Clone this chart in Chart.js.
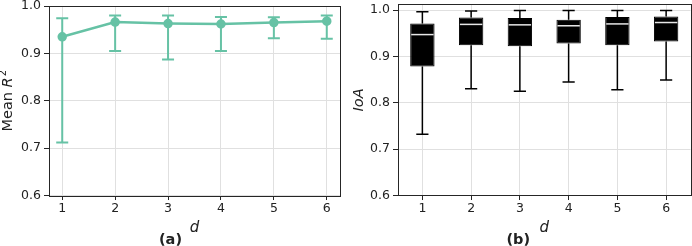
<!DOCTYPE html>
<html>
<head>
<meta charset="utf-8">
<script src="https://cdn.jsdelivr.net/npm/chart.js@4.4.0/dist/chart.umd.min.js"></script>
<style>
  html, body { margin: 0; padding: 0; background: #fff; }
  .panel { position: absolute; top: 0; width: 346px; height: 246px; }
  #panel-a { left: 0; }
  #panel-b { left: 346px; }
</style>
</head>
<body>
<div class="panel" id="panel-a"><canvas id="chartA" width="346" height="246"></canvas></div>
<div class="panel" id="panel-b"><canvas id="chartB" width="346" height="246"></canvas></div>
<script>
// Shared axis data
const dValues = [1, 2, 3, 4, 5, 6];
const categories = ['1', '2', '3', '4', '5', '6'];
const yTicks = [0.6, 0.7, 0.8, 0.9, 1.0];

// (a) mean R^2 with its spread
const meanR2 = [0.935, 0.966, 0.963, 0.962, 0.965, 0.968];
const r2High = [0.974, 0.980, 0.980, 0.977, 0.976, 0.980];
const r2Low  = [0.712, 0.905, 0.887, 0.905, 0.932, 0.931];

// (b) IoA box statistics
const ioaMin    = [0.732, 0.830, 0.825, 0.845, 0.828, 0.849];
const ioaQ1     = [0.878, 0.924, 0.922, 0.928, 0.924, 0.932];
const ioaMedian = [0.947, 0.969, 0.968, 0.966, 0.970, 0.973];
const ioaQ3     = [0.971, 0.984, 0.983, 0.979, 0.985, 0.986];
const ioaMax    = [0.996, 0.998, 0.999, 0.999, 0.999, 0.999];

// Styles
const teal = '#66c2a5';
const gridColor = '#e0e0e0';
const axisColor = '#262626';
const textColor = '#222';
const FONT = 'DejaVu Sans';
const tickFont = { family: FONT, size: 12.5 };

// Draws the full box around the plot area
const framePlugin = {
    id: 'frame',
    afterDraw(chart) {
        const { ctx, chartArea: a } = chart;
        ctx.save();
        ctx.strokeStyle = axisColor;
        ctx.lineWidth = 1;
        ctx.strokeRect(Math.round(a.left) + 0.5, Math.round(a.top) + 0.5,
            Math.round(a.right - a.left), Math.round(a.bottom - a.top));
        ctx.restore();
    }
};

// Vertical error bars with caps for panel (a)
const errorBars = {
    id: 'errorBars',
    beforeDatasetsDraw(chart) {
        const { ctx, scales: { x, y } } = chart;
        ctx.save();
        ctx.strokeStyle = teal;
        ctx.lineWidth = 2;
        dValues.forEach((d, i) => {
            const px = x.getPixelForValue(d);
            const top = y.getPixelForValue(r2High[i]);
            const bot = y.getPixelForValue(r2Low[i]);
            ctx.beginPath();
            ctx.moveTo(px, top); ctx.lineTo(px, bot);
            ctx.moveTo(px - 6, top); ctx.lineTo(px + 6, top);
            ctx.moveTo(px - 6, bot); ctx.lineTo(px + 6, bot);
            ctx.stroke();
        });
        ctx.restore();
    }
};

// "Mean R²" y title with italic R and superscript
const r2Title = {
    id: 'r2Title',
    afterDraw(chart) {
        const { ctx, chartArea: a } = chart;
        ctx.save();
        ctx.translate(8.5, (a.top + a.bottom) / 2);
        ctx.rotate(-Math.PI / 2);
        ctx.fillStyle = textColor;
        ctx.textBaseline = 'middle';
        const f1 = '14.5px "DejaVu Sans"';
        const f2 = 'italic 14.5px "DejaVu Sans"';
        const f3 = '10px "DejaVu Sans"';
        ctx.font = f1; const w1 = ctx.measureText('Mean ').width;
        ctx.font = f2; const w2 = ctx.measureText('R').width;
        ctx.font = f3; const w3 = ctx.measureText('2').width;
        let xx = -(w1 + w2 + w3 + 1) / 2;
        ctx.font = f1; ctx.fillText('Mean ', xx, 0); xx += w1;
        ctx.font = f2; ctx.fillText('R', xx, 0); xx += w2;
        ctx.font = f3; ctx.fillText('2', xx + 1, -5.5);
        ctx.restore();
    }
};

// Whiskers, caps and medians for panel (b)
const whiskers = {
    id: 'whiskers',
    afterDatasetsDraw(chart) {
        const { ctx, scales: { y } } = chart;
        const bars = chart.getDatasetMeta(0).data;
        ctx.save();
        bars.forEach((bar, i) => {
            const cx = bar.x;
            const half = bar.width / 2;
            const cap = bar.width / 4;
            const pMax = y.getPixelForValue(ioaMax[i]);
            const pMin = y.getPixelForValue(ioaMin[i]);
            const pQ1 = y.getPixelForValue(ioaQ1[i]);
            const pQ3 = y.getPixelForValue(ioaQ3[i]);
            const pMed = y.getPixelForValue(ioaMedian[i]);
            ctx.strokeStyle = '#000';
            ctx.lineWidth = 1.5;
            ctx.beginPath();
            ctx.moveTo(cx, pQ3); ctx.lineTo(cx, pMax);
            ctx.moveTo(cx - cap, pMax); ctx.lineTo(cx + cap, pMax);
            ctx.moveTo(cx, pQ1); ctx.lineTo(cx, pMin);
            ctx.moveTo(cx - cap, pMin); ctx.lineTo(cx + cap, pMin);
            ctx.stroke();
            ctx.strokeStyle = '#e6e6e6';
            ctx.beginPath();
            ctx.moveTo(cx - half + 1, pMed); ctx.lineTo(cx + half - 1, pMed);
            ctx.stroke();
        });
        ctx.restore();
    }
};

function yAxis(max, width) {
    return {
        min: 0.6,
        max: max,
        afterBuildTicks: s => { s.ticks = yTicks.map(v => ({ value: v })); },
        afterFit: s => { s.width = width; s.paddingTop = 0; s.paddingBottom = 0; },
        grid: { color: gridColor, tickLength: 5, tickColor: axisColor },
        border: { display: false },
        ticks: { font: tickFont, color: textColor, padding: 3, callback: v => v.toFixed(1) }
    };
}

function xAxisBase() {
    return {
        afterFit: s => { s.height = 39.6; s.paddingLeft = 0; s.paddingRight = 0; },
        grid: { color: gridColor, tickLength: 4.5, tickColor: axisColor, offset: false },
        border: { display: false },
        ticks: { font: tickFont, color: textColor, padding: 1.5, maxRotation: 0 },
        title: {
            display: true, text: 'd', color: textColor, padding: 0,
            font: { family: FONT, size: 15, style: 'italic', lineHeight: 1 }
        }
    };
}

function bottomTitle(text) {
    return {
        display: true, position: 'bottom', text: text, color: textColor, padding: 0,
        font: { family: FONT, size: 14.5, weight: 'bold', lineHeight: 0.75 }
    };
}

// Panel (a)
const xA = xAxisBase();
xA.type = 'linear';
xA.min = 0.75;
xA.max = 6.25;
xA.afterBuildTicks = s => { s.ticks = dValues.map(v => ({ value: v })); };

new Chart(document.getElementById('chartA'), {
    type: 'line',
    data: {
        datasets: [{
            data: dValues.map((d, i) => ({ x: d, y: meanR2[i] })),
            borderColor: teal,
            backgroundColor: teal,
            borderWidth: 2.5,
            pointRadius: 3.5,
            pointHoverRadius: 3.5,
            tension: 0
        }]
    },
    options: {
        responsive: false,
        animation: false,
        layout: { padding: { top: 5, right: 5, left: 0, bottom: 0 } },
        plugins: {
            legend: { display: false },
            tooltip: { enabled: false },
            title: bottomTitle('(a)')
        },
        scales: {
            x: xA,
            y: yAxis(1.0, 49)
        }
    },
    plugins: [errorBars, framePlugin, r2Title]
});

// Panel (b)
const yB = yAxis(1.0123, 52);
yB.title = {
    display: true, text: 'IoA', color: textColor, padding: { top: 5, bottom: 0 },
    font: { family: FONT, size: 14.5, style: 'italic' }
};

new Chart(document.getElementById('chartB'), {
    type: 'bar',
    data: {
        labels: categories,
        datasets: [{
            data: ioaQ1.map((q, i) => [q, ioaQ3[i]]),
            backgroundColor: '#000',
            borderColor: '#000',
            borderWidth: 1,
            borderSkipped: false,
            barPercentage: 0.5,
            categoryPercentage: 1.0
        }]
    },
    options: {
        responsive: false,
        animation: false,
        layout: { padding: { top: 4.3, right: 1.5, left: 0, bottom: 0 } },
        plugins: {
            legend: { display: false },
            tooltip: { enabled: false },
            title: bottomTitle('(b)')
        },
        scales: {
            x: xAxisBase(),
            y: yB
        }
    },
    plugins: [whiskers, framePlugin]
});
</script>
</body>
</html>
